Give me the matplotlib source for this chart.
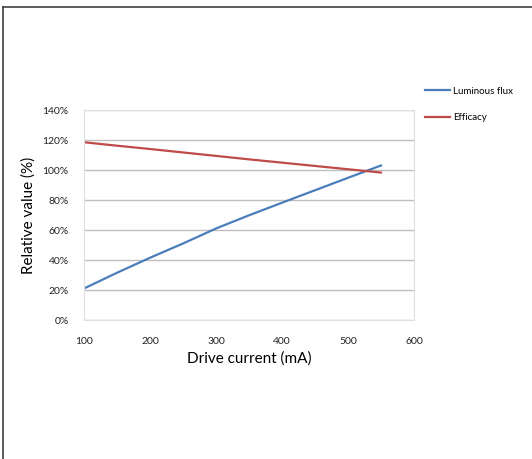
import numpy as np
import matplotlib.pyplot as plt
from matplotlib.lines import Line2D
from matplotlib.ticker import FuncFormatter

# values
current_ma = [100, 150, 200, 250, 300, 350, 400, 450, 500, 550]
luminous_flux = [21, 31.5, 41.5, 51, 61, 69.8, 78.2, 86.5, 94.8, 103]
efficacy = [118.5, 116.2, 114, 111.7, 109.4, 107.1, 104.9, 102.7, 100.5, 98.3]

series_names = ["Luminous flux", "Efficacy"]
colors = ["#4a7ebb", "#be4b48"]

plt.rcParams['font.family'] = ['Lato', 'DejaVu Sans']

fig = plt.figure(figsize=(5.32, 4.59), dpi=100)
ax = fig.add_axes([84 / 532, (459 - 320) / 459, 330 / 532, 210 / 459])

l1, = ax.plot(current_ma, luminous_flux, color=colors[0], lw=1.6, label=series_names[0])
l2, = ax.plot(current_ma, efficacy, color=colors[1], lw=1.6, label=series_names[1])

ax.set_xlim(100, 600)
ax.set_ylim(0, 140)
ax.set_xticks(np.arange(100, 601, 100))
ax.set_yticks(np.arange(0, 141, 20))
ax.yaxis.set_major_formatter(FuncFormatter(lambda v, p: f"{int(v)}%"))
ax.tick_params(length=0, labelsize=7.5, colors="#222222")
ax.tick_params(axis='x', pad=12)
ax.tick_params(axis='y', pad=11)
ax.grid(axis='y', color="#bfbfbf", lw=1)
ax.set_axisbelow(True)
for s in ax.spines.values():
    s.set_color("#e0e0e0")
    s.set_linewidth(0.8)

ax.set_xlabel("Drive current (mA)", fontsize=11, labelpad=4)
ax.set_ylabel("Relative value (%)", fontsize=11, labelpad=5)

fig.legend(handles=[l1, l2], loc='upper left', bbox_to_anchor=(421 / 532, 1 - 83 / 459),
           frameon=False, fontsize=7, handlelength=2.6, handletextpad=0.3,
           labelspacing=1.75, borderaxespad=0)

# outer frame (top and left edges only, as in the reference)
fig.add_artist(Line2D([3 / 532, 1], [1 - 7 / 459, 1 - 7 / 459], color="#404040", lw=1.2))
fig.add_artist(Line2D([3 / 532, 3 / 532], [0, 1 - 7 / 459], color="#404040", lw=1.2))

fig.savefig("out.png", dpi=100)
